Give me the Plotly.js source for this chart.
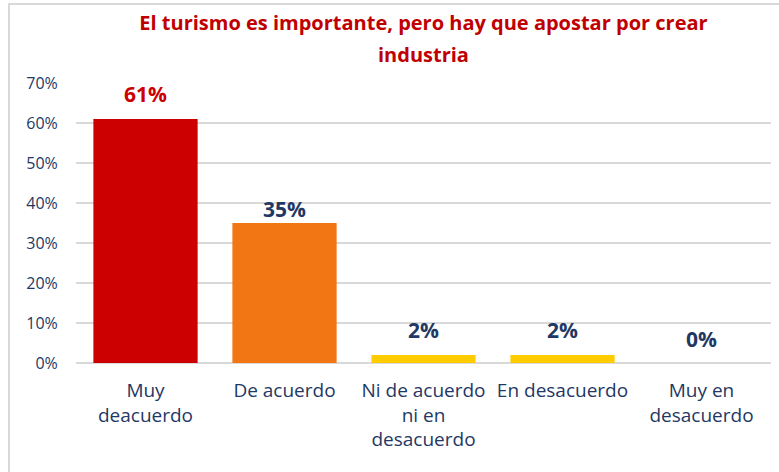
<!DOCTYPE html>
<html><head><meta charset="utf-8">
<script src="https://cdn.plot.ly/plotly-3.0.1.min.js"></script>
<style>
html,body{margin:0;padding:0;background:#fff;overflow:hidden}
#frame{position:absolute;left:8px;top:3px;width:820px;height:520px;border:2px solid #d9d9d9;box-sizing:border-box}
#chart{position:absolute;left:0;top:0;width:779px;height:472px}
</style></head>
<body>
<div id="frame"></div>
<div id="chart"></div>
<script>
const categories = ["Muy<br>deacuerdo", "De acuerdo", "Ni de acuerdo<br>ni en<br>desacuerdo", "En desacuerdo", "Muy en<br>desacuerdo"];
const values = [0.61, 0.35, 0.02, 0.02, 0.0];
const barColors = ["#CC0000", "#F27613", "#FFCC00", "#FFCC00", "#FFCC00"];
const labelColors = ["#CC0000", "#1F3864", "#1F3864", "#1F3864", "#1F3864"];
const yTicks = [0, 0.1, 0.2, 0.3, 0.4, 0.5, 0.6, 0.7];
const yTickText = ["0%", "10%", "20%", "30%", "40%", "50%", "60%", "70%"];
const titleLine1 = "El turismo es importante, pero hay que apostar por crear";
const titleLine2 = "industria";

const FONT = "Open Sans, sans-serif";

const trace = {
  type: "bar",
  x: categories,
  y: values,
  marker: {color: barColors},
  hoverinfo: "none"
};

const labelShift = [9, -2, 9, 9, 8];
const annotations = categories.map((c, i) => ({
  x: c, y: values[i], xref: "x", yref: "y",
  text: "<b>" + Math.round(values[i] * 100) + "%</b>",
  showarrow: false, yanchor: "bottom", xanchor: "center",
  yshift: labelShift[i],
  font: {family: FONT, size: 21, color: labelColors[i]}
}));
annotations.push({
  text: "<b>" + titleLine2 + "</b>",
  xref: "paper", yref: "paper", x: 0.5, y: 1.1, xanchor: "center", yanchor: "middle",
  showarrow: false,
  font: {family: FONT, size: 20, color: "#C00000"}
});

const layout = {
  width: 779, height: 472,
  margin: {l: 76, r: 8, t: 83, b: 109},
  paper_bgcolor: "rgba(0,0,0,0)",
  plot_bgcolor: "rgba(0,0,0,0)",
  bargap: 0.25,
  showlegend: false,
  title: {
    text: "<b>" + titleLine1 + "</b>",
    font: {family: FONT, size: 20, color: "#C00000"},
    x: 0.5, xref: "paper", xanchor: "center",
    y: 1 - 23 / 472, yref: "container", yanchor: "middle"
  },
  annotations: annotations,
  xaxis: {
    type: "category",
    tickfont: {family: FONT, size: 19, color: "#1F3864"},
    showgrid: false, zeroline: false, showline: false,
    ticks: "outside", ticklen: 10, tickcolor: "rgba(0,0,0,0)"
  },
  yaxis: {
    range: [0, 0.7],
    tickvals: yTicks,
    ticktext: yTickText,
    tickfont: {family: FONT, size: 16, color: "#1F3864"},
    showgrid: true, gridcolor: "#d9d9d9", gridwidth: 1.5,
    zeroline: true, zerolinecolor: "#d9d9d9", zerolinewidth: 1.5,
    showline: false,
    ticks: "outside", ticklen: 14, tickcolor: "rgba(0,0,0,0)"
  }
};

Plotly.newPlot("chart", [trace], layout, {displayModeBar: false, staticPlot: true});
</script>
</body></html>
